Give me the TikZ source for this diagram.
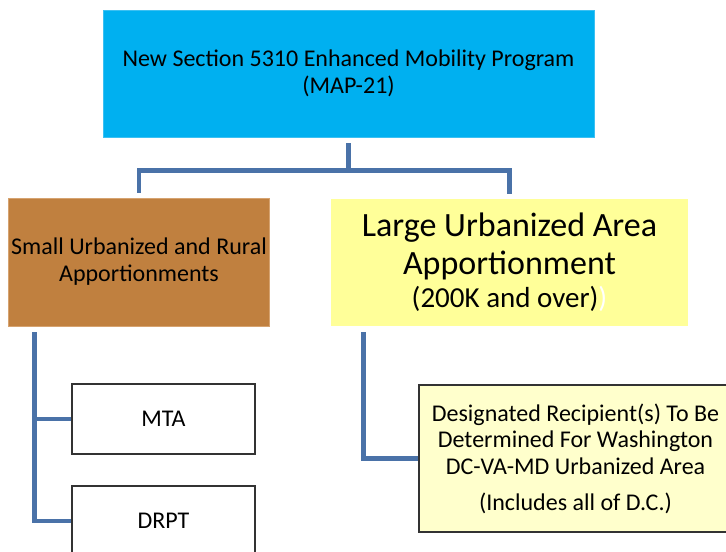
\documentclass[tikz,border=0pt]{standalone}
\usepackage{fontspec}
\setmainfont{Carlito}
\usetikzlibrary{calc}
\newdimen\pu \pu=0.75pt
\definecolor{topblue}{HTML}{00B0F0}
\definecolor{topedge}{HTML}{3CC0F2}
\definecolor{brownfill}{HTML}{C0803F}
\definecolor{brownedge}{HTML}{D6A370}
\definecolor{yellowfill}{HTML}{FFFF99}
\definecolor{paleyellow}{HTML}{FFFFCC}
\definecolor{connblue}{HTML}{4A72A8}
\definecolor{boxedge}{HTML}{333333}
\tikzset{
  box/.style={inner sep=0pt, align=center, font=\fontsize{18}{20.25}\selectfont},
  conn/.style={draw=connblue, line width=4.5\pu},
}
\begin{document}
\begin{tikzpicture}[x=0.75pt, y=-0.75pt]
\useasboundingbox (0,0) rectangle (726,552);
\clip (0,0) rectangle (726,552);
\fill[white] (0,0) rectangle (726,552);

\node[box, fill=topblue, draw=topedge, line width=0.8\pu,
      minimum width=491\pu, minimum height=127\pu] (top) at (348.5,73.5)
  {New Section 5310 Enhanced Mobility Program\\(MAP-21)};

\node[box, fill=brownfill, draw=brownedge, line width=0.8\pu,
      minimum width=261\pu, minimum height=128\pu] (small) at (139,262)
  {Small Urbanized and Rural\\Apportionments};

\node[box, fill=yellowfill, minimum width=357\pu, minimum height=127\pu,
      font=\fontsize{25.5}{28.5}\selectfont] (large) at (509.5,262.5)
  {Large Urbanized Area\\Apportionment\\[-3.75pt]{\fontsize{21.75}{24}\selectfont (200K and over)\textcolor{white}{)}}};

\node[box, fill=white, draw=boxedge, line width=1.2\pu,
      minimum width=183\pu, minimum height=70\pu] (mta) at (163.5,419) {MTA};

\node[box, fill=white, draw=boxedge, line width=1.2\pu,
      minimum width=183\pu, minimum height=70\pu] (drpt) at (163.5,521) {DRPT};

\node[box, fill=paleyellow, draw=boxedge, line width=1.2\pu,
      minimum width=313\pu, minimum height=147\pu,
      font=\fontsize{18}{19.9}\selectfont] (des) at (575.5,458.5)
  {Designated Recipient(s) To Be\\Determined For Washington\\DC-VA-MD Urbanized Area\\[7pt](Includes all of D.C.)};

% connectors from the top box
\draw[conn] ($(top.south)+(0,6)$) -- ++(0,27) coordinate (tj);
\draw[conn] ($(small.north)+(0,-5)$) |- (tj) -| ($(large.north)+(0,-5)$);

% left branch
\coordinate (lv) at ($(small.south west)+(26.5,6)$);
\draw[conn] (lv) |- (drpt.west);
\draw[conn] (lv |- mta.west) -- (mta.west);

% right branch
\coordinate (rv) at ($(large.south west)+(33,6)$);
\draw[conn] (rv) |- (des.west);
\end{tikzpicture}
\end{document}
